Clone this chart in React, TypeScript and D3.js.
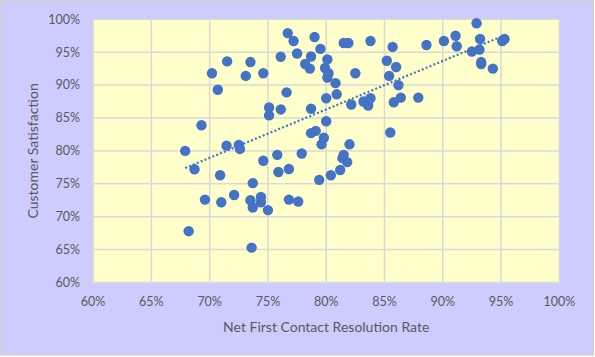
import React from "react";
import * as d3 from "d3";

const xValues = [
  67.9, 68.2, 68.7, 69.3, 69.6, 70.2, 70.7, 70.9, 71.0, 71.45,
  71.5, 72.1, 72.5, 72.6, 73.1, 73.5, 73.5, 73.6, 73.7, 73.7,
  74.4, 74.4, 74.6, 74.6, 75.0, 75.1, 75.1, 75.8, 75.9, 76.1,
  76.1, 76.6, 76.7, 76.8, 76.8, 77.2, 77.5, 77.6, 77.9, 78.2,
  78.6, 78.7, 78.7, 78.7, 79.0, 79.1, 79.4, 79.5, 79.6, 79.8,
  79.9, 80.0, 80.0, 80.1, 80.1, 80.2, 80.4, 80.8, 80.9, 81.2,
  81.4, 81.5, 81.8, 81.5, 81.9, 82.0, 82.15, 82.5, 83.2, 83.6,
  83.8, 83.8, 85.2, 85.5, 85.4, 85.7, 85.8, 86.0, 86.2, 86.4,
  87.9, 88.6, 90.1, 91.1, 91.2, 92.5, 92.9, 93.15, 93.2, 93.3,
  93.3, 94.3, 95.1, 95.3,
];
const yValues = [
  80.0, 67.8, 77.2, 83.9, 72.6, 91.8, 89.3, 76.3, 72.2, 80.8,
  93.6, 73.3, 80.9, 80.3, 91.4, 93.5, 72.5, 65.3, 75.1, 71.4,
  73.0, 72.2, 91.8, 78.5, 71.0, 86.6, 85.4, 79.4, 76.8, 94.3,
  86.3, 88.9, 97.9, 77.25, 72.6, 96.7, 94.8, 72.3, 79.6, 93.2,
  92.5, 94.35, 86.4, 82.7, 97.3, 83.05, 75.6, 95.5, 81.0, 82.0,
  92.6, 88.0, 84.5, 93.9, 91.15, 91.8, 76.3, 90.3, 88.6, 77.1,
  78.9, 79.4, 78.3, 96.4, 96.4, 81.0, 87.05, 91.8, 87.5, 86.9,
  88.0, 96.7, 93.7, 82.8, 91.4, 95.8, 87.4, 92.75, 90.0, 88.1,
  88.1, 96.1, 96.7, 97.5, 95.9, 95.1, 99.4, 95.4, 97.0, 93.5,
  93.2, 92.5, 96.7, 97.0,
];
const xTicks = [60, 65, 70, 75, 80, 85, 90, 95, 100];
const yTicks = [60, 65, 70, 75, 80, 85, 90, 95, 100];
const xTitle = "Net First Contact Resolution Rate";
const yTitle = "Customer Satisfaction";

const W = 595;
const H = 357;
const plot = { left: 93.1, right: 559.3, top: 19.3, bottom: 282.5 };
const FONT = "Lato, 'Open Sans', sans-serif";
const BLUE = "#4472C4";
const TEXT = "#595959";
const GRID = "#D9D9D9";

export default function App() {
  const x = d3.scaleLinear().domain([60, 100]).range([plot.left, plot.right]);
  const y = d3.scaleLinear().domain([60, 100]).range([plot.bottom, plot.top]);

  // linear trendline (least squares)
  const n = xValues.length;
  const mx = d3.mean(xValues) as number;
  const my = d3.mean(yValues) as number;
  let sxy = 0;
  let sxx = 0;
  for (let i = 0; i < n; i++) {
    sxy += (xValues[i] - mx) * (yValues[i] - my);
    sxx += (xValues[i] - mx) * (xValues[i] - mx);
  }
  const slope = sxy / sxx;
  const intercept = my - slope * mx;
  const [xmin, xmax] = d3.extent(xValues) as [number, number];
  const trend = d3.line<number>()
    .x((v) => x(v))
    .y((v) => y(intercept + slope * v))([xmin, xmax]);

  return (
    <svg
      width={W}
      height={H}
      style={{ position: "absolute", left: 0, top: 0, display: "block" }}
    >
      <rect x={0} y={0} width={W} height={H} fill="#ffffff" />
      <rect
        x={0.75}
        y={0.75}
        width={592.5}
        height={354}
        fill="#CCCCFF"
        stroke="#D0D0D0"
        strokeWidth={1.5}
      />
      <rect
        x={plot.left}
        y={plot.top}
        width={plot.right - plot.left}
        height={plot.bottom - plot.top}
        fill="#FFFFCC"
      />
      {xTicks.map((t) => (
        <line
          key={"gx" + t}
          x1={x(t)}
          x2={x(t)}
          y1={plot.top}
          y2={plot.bottom}
          stroke={GRID}
          strokeWidth={1.5}
        />
      ))}
      {yTicks.map((t) => (
        <line
          key={"gy" + t}
          x1={plot.left}
          x2={plot.right}
          y1={y(t)}
          y2={y(t)}
          stroke={GRID}
          strokeWidth={1.5}
        />
      ))}
      {xValues.map((v, i) => (
        <circle key={"p" + i} cx={x(v)} cy={y(yValues[i])} r={5.2} fill={BLUE} />
      ))}
      <path
        d={trend || ""}
        fill="none"
        stroke={BLUE}
        strokeWidth={2.2}
        strokeDasharray="2 2.2"
      />
      {yTicks.map((t) => (
        <text
          key={"ty" + t}
          x={80}
          y={y(t)}
          dy="0.35em"
          textAnchor="end"
          fontFamily={FONT}
          fontSize={12.5}
          fill={TEXT}
        >
          {t + "%"}
        </text>
      ))}
      {xTicks.map((t) => (
        <text
          key={"tx" + t}
          x={x(t)}
          y={302}
          dy="0.35em"
          textAnchor="middle"
          fontFamily={FONT}
          fontSize={12.5}
          fill={TEXT}
        >
          {t + "%"}
        </text>
      ))}
      <text
        x={(plot.left + plot.right) / 2}
        y={327}
        dy="0.35em"
        textAnchor="middle"
        fontFamily={FONT}
        fontSize={14}
        fill={TEXT}
      >
        {xTitle}
      </text>
      <text
        transform={`translate(33,${(plot.top + plot.bottom) / 2}) rotate(-90)`}
        dy="0.35em"
        textAnchor="middle"
        fontFamily={FONT}
        fontSize={14}
        fill={TEXT}
      >
        {yTitle}
      </text>
    </svg>
  );
}
